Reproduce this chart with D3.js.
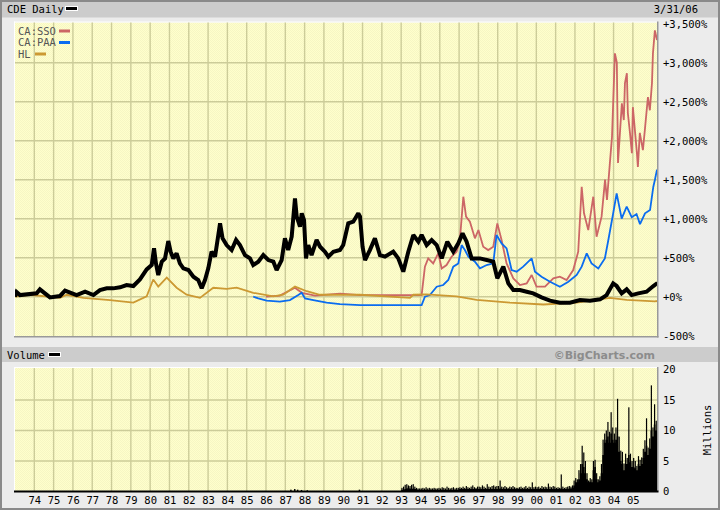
<!DOCTYPE html>
<html><head><meta charset="utf-8">
<script src="https://cdn.jsdelivr.net/npm/d3@7/dist/d3.min.js"></script>
<style>html,body{margin:0;padding:0;background:#ececec;}svg{display:block;}</style>
</head><body>
<script>
// ---------------- DATA ----------------
const yearTicks = [1974,1975,1976,1977,1978,1979,1980,1981,1982,1983,1984,1985,1986,1987,1988,1989,1990,1991,1992,1993,1994,1995,1996,1997,1998,1999,2000,2001,2002,2003,2004,2005];
const pctTicks = [-500,0,500,1000,1500,2000,2500,3000,3500];
const volTicks = [0,5,10,15,20];

// CDE (percent change), decimal-year dates
const cdeDates = [1973.00,1973.08,1973.26,1974.12,1974.29,1974.81,1975.33,1975.59,1976.19,1976.63,1977.06,1977.40,1977.75,1978.09,1978.44,1978.78,1979.13,1979.47,1979.82,1980.08,1980.20,1980.30,1980.42,1980.60,1980.77,1980.94,1981.06,1981.20,1981.37,1981.54,1981.72,1981.98,1982.24,1982.49,1982.67,1982.84,1983.01,1983.18,1983.36,1983.53,1983.62,1983.75,1983.96,1984.22,1984.45,1984.65,1984.91,1985.17,1985.34,1985.60,1985.86,1986.12,1986.38,1986.55,1986.81,1986.98,1987.15,1987.33,1987.50,1987.59,1987.76,1987.85,1987.97,1988.07,1988.19,1988.36,1988.62,1988.80,1989.05,1989.23,1989.49,1989.83,1990.00,1990.26,1990.52,1990.78,1990.87,1991.00,1991.13,1991.38,1991.64,1991.90,1992.16,1992.59,1992.85,1993.11,1993.37,1993.63,1993.89,1994.06,1994.32,1994.58,1994.84,1995.10,1995.39,1995.70,1995.96,1996.18,1996.39,1996.65,1997.08,1997.43,1997.77,1997.98,1998.29,1998.55,1998.81,1999.15,1999.50,1999.84,2000.27,2000.71,2001.22,2001.74,2002.26,2002.78,2003.30,2003.64,2003.98,2004.16,2004.42,2004.68,2004.94,2005.28,2005.71,2006.06,2006.20,2006.25];
const cdeValues = [0,60,21,43,94,-9,9,77,21,64,21,85,107,107,120,150,137,222,350,406,620,427,278,449,491,714,577,491,556,427,363,342,256,214,107,214,363,577,513,791,940,748,662,598,727,662,534,491,406,449,534,470,449,342,470,748,598,769,1261,1026,898,1069,983,491,662,534,727,641,577,513,577,598,662,940,962,1069,1026,641,470,598,748,534,513,577,491,321,577,791,705,791,662,727,662,491,705,577,684,812,705,491,491,470,449,235,385,171,85,85,64,43,-9,-51,-77,-77,-43,-51,-34,21,171,137,43,94,21,43,64,137,162,150];

// CA:SSO
const ssoDates = [1986.00,1986.72,1987.50,1987.86,1988.54,1989.83,1990.87,1992.59,1994.06,1994.23,1994.40,1994.66,1994.92,1995.10,1995.35,1995.61,1995.87,1996.04,1996.22,1996.36,1996.56,1996.82,1997.00,1997.25,1997.51,1997.77,1997.98,1998.20,1998.46,1998.81,1999.15,1999.50,1999.76,2000.01,2000.45,2000.88,2001.22,2001.57,2001.91,2002.17,2002.35,2002.47,2002.69,2002.95,2003.12,2003.38,2003.56,2003.66,2003.81,2003.92,2004.07,2004.17,2004.23,2004.43,2004.53,2004.59,2004.69,2004.74,2004.85,2004.95,2005.00,2005.21,2005.26,2005.36,2005.52,2005.62,2005.78,2005.88,2005.99,2006.04,2006.14,2006.25];
const ssoValues = [0,15,115,50,15,40,21,21,21,385,491,427,556,363,406,513,577,727,1282,1026,962,748,855,641,598,641,940,727,427,235,150,171,278,128,128,235,256,214,342,577,1410,1069,855,1282,769,1026,1500,1240,1715,2050,3120,3000,1715,2480,2265,2740,2865,2355,2100,1840,2430,1840,1665,2100,1880,2135,2560,2390,2740,3120,3415,3290];

// CA:PAA
const paaDates = [1985.34,1985.60,1986.03,1986.72,1987.24,1987.67,1987.85,1988.02,1988.45,1989.14,1989.83,1990.87,1994.06,1994.23,1994.49,1994.84,1995.18,1995.44,1995.70,1995.96,1996.13,1996.30,1996.48,1996.82,1997.08,1997.43,1997.77,1997.94,1998.20,1998.46,1998.72,1998.98,1999.32,1999.76,1999.93,2000.27,2000.71,2001.22,2001.66,2002.09,2002.35,2002.61,2002.86,2003.21,2003.55,2003.73,2003.98,2004.16,2004.42,2004.68,2004.94,2005.19,2005.37,2005.63,2005.89,2006.06,2006.14,2006.25];
const paaValues = [0,-21,-51,-64,-43,21,51,-21,-43,-77,-94,-107,-107,0,21,128,150,214,385,427,662,598,513,449,363,406,427,791,684,620,342,321,385,491,321,256,192,128,192,278,385,556,427,363,491,727,1069,1325,1000,1154,1020,1060,930,1069,1111,1410,1496,1630];

// HL
const hlDates = [1973.0,1973.78,1975.33,1975.68,1976.54,1977.92,1979.13,1979.82,1980.16,1980.42,1980.86,1981.37,1981.89,1982.58,1983.27,1983.96,1984.48,1985.34,1986.38,1986.89,1987.50,1988.11,1988.79,1990.87,1993.46,1993.63,1994.30,1995.87,1996.91,1998.63,2000.36,2002.09,2003.81,2004.68,2006.14,2006.25];
const hlValues = [0,25,-15,25,-15,-45,-75,5,220,130,245,115,25,-15,115,100,115,50,5,25,130,70,25,25,-15,25,30,5,-40,-75,-100,-75,-15,-40,-60,-55];

// Volume (millions) - early sparse bars
const volEarlyDates = [1987.25,1987.45,1987.6,1987.8,1988.1,1990.8];
const volEarlyValues = [0.3,0.4,0.3,0.25,0.2,0.3];
// Monthly volume from Jan 1993: typical level and peak
const volStart = 1993.0;
const volLevel = [
 0.3,0.3,0.4,0.5,0.6,0.5,0.4,0.5,0.4,0.4,0.3,0.3,
 0.3,0.3,0.3,0.3,0.3,0.3,0.3,0.3,0.3,0.3,0.3,0.3,
 0.3,0.3,0.3,0.3,0.3,0.3,0.3,0.3,0.3,0.3,0.3,0.3,
 0.4,0.4,0.4,0.4,0.4,0.4,0.4,0.4,0.4,0.4,0.4,0.4,
 0.4,0.4,0.4,0.4,0.4,0.4,0.4,0.4,0.4,0.4,0.4,0.4,
 0.4,0.5,0.4,0.4,0.4,0.4,0.4,0.4,0.4,0.4,0.4,0.4,
 0.4,0.4,0.4,0.4,0.4,0.4,0.4,0.4,0.4,0.4,0.4,0.4,
 0.4,0.4,0.4,0.4,0.4,0.4,0.4,0.4,0.4,0.4,0.4,0.4,
 0.4,0.4,0.4,0.5,0.4,0.4,0.4,0.4,0.5,0.5,0.6,1.0,
 1.5,1.5,2.0,3.0,4.5,4.0,3.0,2.0,1.5,1.6,1.5,3.5,
 4.0,2.0,1.5,1.8,3.0,6.0,8.0,8.5,9.0,8.0,9.5,8.5,
 8.0,8.5,9.0,6.5,5.0,4.5,3.5,4.5,4.5,6.0,4.8,4.0,
 4.0,3.8,3.5,4.5,4.2,4.5,5.5,6.5,7.5,6.0,7.0,10.0,
 9.0,11.0,10.0];
const volPeak = [
 0.6,0.8,1.1,1.2,1.0,0.9,1.1,1.2,0.8,0.6,0.5,0.5,
 0.5,0.6,0.5,0.7,0.5,0.6,0.5,0.5,0.6,0.5,0.5,0.6,
 0.5,0.7,0.6,0.5,0.8,0.6,0.5,0.6,0.7,0.5,0.6,0.6,
 0.7,0.6,0.8,0.6,0.9,0.7,0.6,0.8,1.0,0.7,0.6,0.8,
 0.8,0.7,1.0,0.8,0.6,1.2,0.8,0.7,0.9,1.0,0.8,0.9,
 0.9,1.8,0.8,0.7,0.9,0.7,0.6,0.8,0.7,0.9,0.7,0.6,
 0.6,0.7,0.8,0.6,0.7,0.9,0.6,0.8,0.7,1.5,0.7,0.8,
 0.7,0.8,0.6,0.9,0.7,0.8,0.7,1.3,0.8,0.7,0.9,0.8,
 0.6,0.7,0.6,2.8,0.8,0.6,0.7,0.8,0.9,0.8,1.0,1.8,
 2.2,2.0,3.5,4.5,7.5,6.4,5.0,3.0,1.8,2.2,2.0,5.0,
 5.2,3.0,2.0,2.5,4.5,8.5,9.5,10.0,11.4,9.8,13.0,10.5,
 9.5,10.5,15.2,9.0,6.7,6.5,4.6,6.2,5.5,13.8,6.2,5.0,
 5.5,5.0,4.2,5.8,5.2,5.6,7.0,8.4,12.0,7.2,8.7,17.4,
 10.5,14.3,11.6];

// ---------------- LAYOUT ----------------
const W = 720, H = 510;
const PX0 = 15, PX1 = 657;
const MT = 22.5, MB = 336;
const VT = 368, VB = 491.5;
const mono = "'DejaVu Sans Mono', monospace";

const svg = d3.select("body").append("svg").attr("width", W).attr("height", H);

const defs = svg.append("defs");
const pat = defs.append("pattern").attr("id","dots").attr("width",2).attr("height",2).attr("patternUnits","userSpaceOnUse");
pat.append("rect").attr("width",2).attr("height",2).attr("fill","#ffffcc");
pat.append("rect").attr("x",0).attr("y",0).attr("width",1).attr("height",1).attr("fill","#f6f6c4");
pat.append("rect").attr("x",1).attr("y",1).attr("width",1).attr("height",1).attr("fill","#f6f6c4");
defs.append("clipPath").attr("id","clipMain").append("rect").attr("x",PX0).attr("y",MT).attr("width",PX1-PX0).attr("height",MB-MT);
defs.append("clipPath").attr("id","clipVol").append("rect").attr("x",PX0).attr("y",VT).attr("width",PX1-PX0).attr("height",VB-VT);

svg.append("rect").attr("width",W).attr("height",H).attr("fill","#ececec");
svg.append("rect").attr("x",1).attr("y",1).attr("width",W-2).attr("height",H-2).attr("fill","none").attr("stroke","#8a8a8a").attr("stroke-width",2);

// header bars
svg.append("rect").attr("x",2).attr("y",2).attr("width",W-4).attr("height",15.5).attr("fill","#cccccc");
svg.append("rect").attr("x",2).attr("y",347).attr("width",W-4).attr("height",15).attr("fill","#cccccc");

svg.append("text").attr("x",7).attr("y",13).attr("font-family",mono).attr("font-size",10.5).attr("fill","#000").text("CDE Daily");
svg.append("rect").attr("x",65).attr("y",6).attr("width",13).attr("height",5).attr("fill","#fff");
svg.append("rect").attr("x",66).attr("y",7).attr("width",11).attr("height",3).attr("fill","#000");
svg.append("text").attr("x",698).attr("y",12.5).attr("text-anchor","end").attr("font-family",mono).attr("font-size",10.5).attr("fill","#000").text("3/31/06");

svg.append("text").attr("x",7).attr("y",358.5).attr("font-family",mono).attr("font-size",10.5).attr("fill","#000").text("Volume");
svg.append("rect").attr("x",48).attr("y",352).attr("width",13).attr("height",5).attr("fill","#fff");
svg.append("rect").attr("x",49).attr("y",353).attr("width",11).attr("height",3).attr("fill","#000");
svg.append("text").attr("x",655).attr("y",358.5).attr("text-anchor","end").attr("font-family","'DejaVu Sans', sans-serif").attr("font-weight","bold").attr("font-size",11).attr("fill","#8c8c8c").text("\u00A9BigCharts.com");

// scales
const x = d3.scaleLinear().domain([1973, 2006.25]).range([PX0, PX1]);
const y = d3.scaleLinear().domain([-500, 3500]).range([335.7, 23.7]);
const yv = d3.scaleLinear().domain([0, 20]).range([491.5, 369.5]);

function panel(t, b) {
  svg.append("rect").attr("x",PX0).attr("y",t).attr("width",PX1-PX0).attr("height",b-t).attr("fill","url(#dots)");
  svg.append("line").attr("x1",PX0-0.5).attr("x2",PX0-0.5).attr("y1",t-1).attr("y2",b).attr("stroke","#ffffff").attr("stroke-width",1);
  svg.append("line").attr("x1",PX0-1).attr("x2",PX1).attr("y1",t-0.5).attr("y2",t-0.5).attr("stroke","#ffffff").attr("stroke-width",1);
}
panel(MT, MB);
panel(VT, VB);

const gridColor = "#cccc99";
const gMain = svg.append("g");
gMain.selectAll("line.v").data(yearTicks).join("line")
  .attr("x1",d=>x(d)).attr("x2",d=>x(d)).attr("y1",MT).attr("y2",MB)
  .attr("stroke",gridColor).attr("stroke-width",1.4);
gMain.selectAll("line.h").data(pctTicks.filter(d=>d>-500 && d<3500)).join("line")
  .attr("x1",PX0).attr("x2",PX1).attr("y1",d=>y(d)).attr("y2",d=>y(d))
  .attr("stroke",gridColor).attr("stroke-width",1.4);
const gVol = svg.append("g");
gVol.selectAll("line.v").data(yearTicks).join("line")
  .attr("x1",d=>x(d)).attr("x2",d=>x(d)).attr("y1",VT).attr("y2",VB)
  .attr("stroke",gridColor).attr("stroke-width",1.4);
gVol.selectAll("line.h").data(volTicks.filter(d=>d>0 && d<20)).join("line")
  .attr("x1",PX0).attr("x2",PX1).attr("y1",d=>yv(d)).attr("y2",d=>yv(d))
  .attr("stroke",gridColor).attr("stroke-width",1.4);

// lines
const line = d3.line().x(d=>x(d[0])).y(d=>y(d[1]));
const plot = svg.append("g").attr("clip-path","url(#clipMain)");
function drawSeries(dates, vals, color, width) {
  plot.append("path").datum(d3.zip(dates, vals)).attr("d", line)
    .attr("fill","none").attr("stroke",color).attr("stroke-width",width)
    .attr("stroke-linejoin","miter").attr("stroke-miterlimit",2).attr("stroke-linecap","butt");
}
drawSeries(ssoDates, ssoValues, "#cc6666", 1.8);
drawSeries(paaDates, paaValues, "#0a6cf0", 1.8);
drawSeries(hlDates, hlValues, "#cc9933", 1.8);
drawSeries(cdeDates, cdeValues, "#000000", 4);

// volume: solid stepped area for the typical level, thin bars for the peaks
const vplot = svg.append("g").attr("clip-path","url(#clipVol)");
const volMonths = volLevel.map((v,i)=>({t: volStart + i/12, lvl: v, pk: volPeak[i]}));
const volArea = d3.area().curve(d3.curveStepAfter).x(d=>x(d.t)).y0(yv(0)).y1(d=>yv(d.lvl));
vplot.append("path").datum(volMonths.concat([{t: 2006.25, lvl: volMonths[volMonths.length-1].lvl}]))
  .attr("d", volArea).attr("fill","#000");
vplot.selectAll("rect.pk").data(volMonths).join("rect")
  .attr("x",d=>x(d.t + 0.5/12)-0.6).attr("width",1.2)
  .attr("y",d=>yv(d.pk)).attr("height",d=>yv(0)-yv(d.pk)).attr("fill","#000");
vplot.selectAll("rect.early").data(d3.zip(volEarlyDates, volEarlyValues)).join("rect")
  .attr("x",d=>x(d[0])).attr("width",1.5)
  .attr("y",d=>yv(d[1])).attr("height",d=>yv(0)-yv(d[1])).attr("fill","#000");

// panel shadows
svg.append("line").attr("x1",PX1+0.75).attr("x2",PX1+0.75).attr("y1",MT-1).attr("y2",MB+1.5).attr("stroke","#999").attr("stroke-width",1.5);
svg.append("line").attr("x1",PX0-1).attr("x2",PX1+1.5).attr("y1",MB+0.75).attr("y2",MB+0.75).attr("stroke","#999").attr("stroke-width",1.5);
svg.append("line").attr("x1",PX1+0.75).attr("x2",PX1+0.75).attr("y1",VT-1).attr("y2",VB).attr("stroke","#999").attr("stroke-width",1.5);

// axes
const fmtPct = v => (v < 0 ? "-" : "+") + d3.format(",")(Math.abs(v)) + "%";
const yAxis = svg.append("g").attr("transform",`translate(${PX1},0)`)
  .call(d3.axisRight(y).tickValues(pctTicks).tickFormat(fmtPct).tickSize(0).tickPadding(6));
yAxis.select(".domain").remove();
yAxis.selectAll("text").attr("font-family",mono).attr("font-size",10.5).attr("fill","#000");

const vAxis = svg.append("g").attr("transform",`translate(${PX1},0)`)
  .call(d3.axisRight(yv).tickValues(volTicks).tickFormat(d3.format("d")).tickSize(0).tickPadding(6));
vAxis.select(".domain").remove();
vAxis.selectAll("text").attr("font-family",mono).attr("font-size",10.5).attr("fill","#000");

const xAxis = svg.append("g").attr("transform",`translate(0,${VB})`)
  .call(d3.axisBottom(x).tickValues(yearTicks).tickFormat(d=>String(d).slice(2)).tickSize(0).tickPadding(5));
xAxis.select(".domain").remove();
xAxis.selectAll("text").attr("font-family",mono).attr("font-size",10.5).attr("fill","#000");
svg.append("line").attr("x1",PX0-1).attr("x2",PX1+1.5).attr("y1",VB).attr("y2",VB).attr("stroke","#000").attr("stroke-width",2);

svg.append("text").attr("transform","translate(711,430) rotate(-90)").attr("text-anchor","middle")
  .attr("font-family",mono).attr("font-size",10.5).attr("fill","#000").text("Millions");

// legend
const legend = [
  {name:"CA:SSO", color:"#cc6666", y:34.5, sx:59},
  {name:"CA:PAA", color:"#0a6cf0", y:46, sx:59},
  {name:"HL", color:"#cc9933", y:57.5, sx:35}
];
const lg = svg.append("g");
lg.selectAll("text").data(legend).join("text").attr("x",18).attr("y",d=>d.y)
  .attr("font-family",mono).attr("font-size",10.5).attr("fill","#555").text(d=>d.name);
lg.selectAll("rect").data(legend).join("rect").attr("x",d=>d.sx).attr("y",d=>d.y-5).attr("width",11).attr("height",3).attr("fill",d=>d.color);
</script>
</body></html>
